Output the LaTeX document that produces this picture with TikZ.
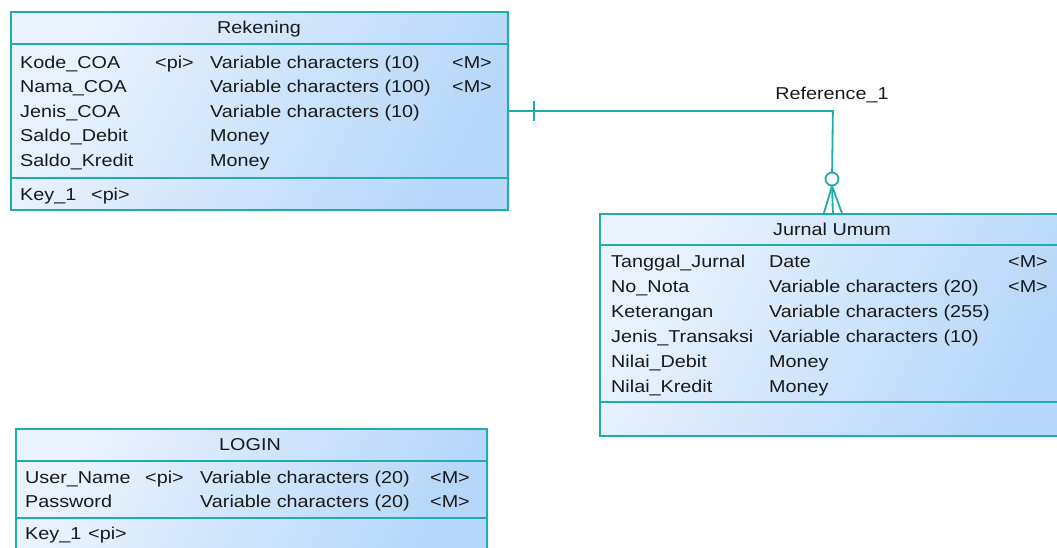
\documentclass[tikz,border=0pt]{standalone}
\usepackage{fontspec}
\setmainfont{Liberation Sans}[FakeStretch=1.15]
\definecolor{edge}{RGB}{30,174,166}
\definecolor{paleblue}{RGB}{234,243,253}
\definecolor{midblue}{RGB}{182,215,249}
\definecolor{ink}{RGB}{25,25,25}
\tikzset{
  entity/.style={draw=edge, line width=1.8pt, rectangle, inner sep=0pt,
    anchor=north west, top color=paleblue, bottom color=midblue, shading angle=62},
  sepline/.style={draw=edge, line width=1.8pt},
  rel/.style={draw=edge, line width=1.8pt},
  txt/.style={anchor=base west, inner sep=0pt, text=ink},
  ttl/.style={anchor=base, inner sep=0pt, text=ink},
}
\begin{document}
\begin{tikzpicture}[x=1pt, y=-1pt, font=\fontsize{17.2}{20}\selectfont]
\useasboundingbox (0,0) rectangle (1057,547);

% ---------- Rekening ----------
\node[entity, minimum width=497pt, minimum height=198pt] (rekening) at (10,11) {};
\draw[sepline] (rekening.west |- 0,44) -- (rekening.east |- 0,44);
\draw[sepline] (rekening.west |- 0,178) -- (rekening.east |- 0,178);
\node[ttl] (rekTitle) at (259,33) {Rekening};
\foreach \n/\p/\t/\m [count=\i] in {
  Kode\_COA/<pi>/Variable characters (10)/<M>,
  Nama\_COA//Variable characters (100)/<M>,
  Jenis\_COA//Variable characters (10)/,
  Saldo\_Debit//Money/,
  Saldo\_Kredit//Money/}{
  \node[txt] (rekN\i) at (20,{68+24.5*(\i-1)}) {\n};
  \node[txt] (rekP\i) at (155,{68+24.5*(\i-1)}) {\p};
  \node[txt] (rekT\i) at (210,{68+24.5*(\i-1)}) {\t};
  \node[txt] (rekM\i) at (452,{68+24.5*(\i-1)}) {\m};
}
\node[txt] (rekKey) at (20,200) {Key\_1};
\node[txt] (rekKeyP) at (91,200) {<pi>};

% ---------- Jurnal Umum ----------
\node[entity, minimum width=466pt, minimum height=222pt] (jurnal) at (599,213) {};
\draw[sepline] (jurnal.west |- 0,245) -- (jurnal.east |- 0,245);
\draw[sepline] (jurnal.west |- 0,402) -- (jurnal.east |- 0,402);
\node[ttl] (jurTitle) at (832,235) {Jurnal Umum};
\foreach \n/\t/\m [count=\i] in {
  Tanggal\_Jurnal/Date/<M>,
  No\_Nota/Variable characters (20)/<M>,
  Keterangan/Variable characters (255)/,
  Jenis\_Transaksi/Variable characters (10)/,
  Nilai\_Debit/Money/,
  Nilai\_Kredit/Money/}{
  \node[txt] (jurN\i) at (611,{267+25*(\i-1)}) {\n};
  \node[txt] (jurT\i) at (769,{267+25*(\i-1)}) {\t};
  \node[txt] (jurM\i) at (1008,{267+25*(\i-1)}) {\m};
}

% ---------- LOGIN ----------
\node[entity, minimum width=471pt, minimum height=124pt] (login) at (15,428) {};
\draw[sepline] (login.west |- 0,461) -- (login.east |- 0,461);
\draw[sepline] (login.west |- 0,518) -- (login.east |- 0,518);
\node[ttl] (logTitle) at (250,450) {LOGIN};
\foreach \n/\p/\t/\m [count=\i] in {
  User\_Name/<pi>/Variable characters (20)/<M>,
  Password//Variable characters (20)/<M>}{
  \node[txt] (logN\i) at (25,{483+24*(\i-1)}) {\n};
  \node[txt] (logP\i) at (145,{483+24*(\i-1)}) {\p};
  \node[txt] (logT\i) at (200,{483+24*(\i-1)}) {\t};
  \node[txt] (logM\i) at (430,{483+24*(\i-1)}) {\m};
}
\node[txt] (logKey) at (25,539) {Key\_1};
\node[txt] (logKeyP) at (88,539) {<pi>};

% ---------- Reference_1 : Rekening (one) -- Jurnal Umum (zero or many) ----------
\coordinate (bend) at (rekening.east -| jurnal.north);
\coordinate (ringC) at (832,179);
\coordinate (footApex) at (832,186);
\draw[rel] (rekening.east) -- (bend) -- (ringC);
% mandatory-one bar
\draw[rel] ([xshift=25pt,yshift=-10pt]rekening.east) -- ([xshift=25pt,yshift=10pt]rekening.east);
% optional ring
\draw[rel, fill=white] (ringC) circle[radius=6.5pt];
% crow's foot
\draw[rel] (footApex) -- ([xshift=-9pt]jurnal.north);
\draw[rel] (footApex) -- (jurnal.north);
\draw[rel] (footApex) -- ([xshift=9pt]jurnal.north);
\node[ttl] (refLabel) at (832,99) {Reference\_1};
\end{tikzpicture}
\end{document}
